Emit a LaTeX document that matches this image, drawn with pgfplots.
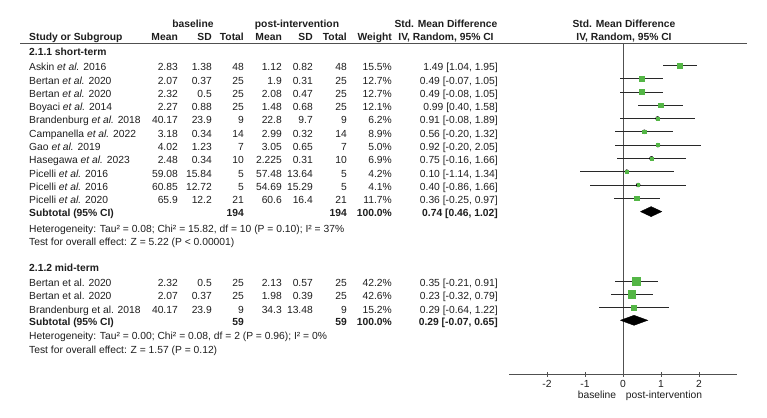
\documentclass[border=0pt]{standalone}
\usepackage{fontspec}
\setmainfont{Liberation Sans}
\usepackage{pgfplots}
\pgfplotsset{compat=1.18}

\definecolor{txt}{RGB}{30,30,30}
\definecolor{fgreen}{RGB}{84,182,70}
\definecolor{ciline}{RGB}{40,40,40}
\definecolor{axgray}{RGB}{80,80,80}

% text helpers, positions in pixels of the 767x417 layout (y downwards)
\newcommand\Lt[3]{\node[anchor=base west] at (#1pt,-#2pt) {#3};}
\newcommand\Rt[3]{\node[anchor=base east] at (#1pt,-#2pt) {#3};}
\newcommand\Ct[3]{\node[anchor=base] at (#1pt,-#2pt) {#3};}
% one study row: y, name, baseline mean/sd/n, post mean/sd/n, weight
\newcommand\Row[9]{%
  \Lt{29}{#1}{#2}\Rt{178}{#1}{#3}\Rt{212}{#1}{#4}\Rt{244}{#1}{#5}%
  \Rt{282}{#1}{#6}\Rt{313}{#1}{#7}\Rt{347}{#1}{#8}\Rt{392}{#1}{#9}}
\newcommand\Ci[2]{\Rt{498}{#1}{#2}}

\begin{document}
\begin{tikzpicture}[font=\fontsize{10.3}{12}\selectfont,
  every node/.style={inner sep=0pt, text=txt}]
\path (0,0) rectangle (767pt,-417pt);

\begin{axis}[
  scale only axis,
  anchor=north west, at={(509pt,-43.5pt)},
  width=228pt, height=330.5pt,
  xmin=-3, xmax=3, ymin=43.5, ymax=374,
  y dir=reverse,
  clip=false,
  axis x line=bottom, axis y line=none,
  axis line style={-, axgray, line width=0.8pt},
  xtick={-2,-1,0,1,2},
  xticklabels={-2,-1,0,1,2},
  tick align=center,
  major tick length=5pt,
  tick style={axgray, line width=0.8pt},
  xticklabel style={yshift=-4pt, font=\fontsize{10.3}{12}\selectfont},
]
% line of no effect
\addplot [axgray, line width=0.9pt] coordinates {(0,43.5) (0,374)};

% confidence intervals: x = SMD, y = row, e+ / e- = distance to CI limits
\addplot [only marks, mark=none,
  error bars/.cd, x dir=both, x explicit, error mark=none,
  error bar style={ciline, line width=0.8pt}]
table [x=x, y=y, x error plus=ep, x error minus=em] {
x     y      ep    em
1.49  65.3   0.46  0.45
0.49  78.6   0.56  0.56
0.49  91.9   0.56  0.57
0.99  105.2  0.59  0.59
0.91  118.5  0.98  0.99
0.56  131.8  0.76  0.76
0.92  145.1  1.13  1.12
0.75  158.4  0.91  0.91
0.10  171.7  1.24  1.24
0.40  185.0  1.26  1.26
0.36  198.3  0.61  0.61
0.35  281.0  0.56  0.56
0.23  294.3  0.56  0.55
0.29  307.6  0.93  0.93
};

% study estimates, square size from weight
\addplot [scatter, only marks, mark=square*, point meta=y,
  scatter/use mapped color={draw=fgreen, fill=fgreen},
  visualization depends on={0.55*sqrt(\thisrow{w})+0.25 \as \ms},
  scatter/@pre marker code/.append style={/tikz/mark size=\ms}]
table [x=x, y=y] {
x     y      w
1.49  65.3   15.5
0.49  78.6   12.7
0.49  91.9   12.7
0.99  105.2  12.1
0.91  118.5  6.2
0.56  131.8  8.9
0.92  145.1  5.0
0.75  158.4  6.9
0.10  171.7  4.2
0.40  185.0  4.1
0.36  198.3  11.7
0.35  281.0  42.2
0.23  294.3  42.6
0.29  307.6  15.2
};

% pooled estimates
\addplot [fill=black, draw=black] coordinates {
  (0.46,211.6) (0.74,206.6) (1.02,211.6) (0.74,216.6) (0.46,211.6)};
\addplot [fill=black, draw=black] coordinates {
  (-0.07,320.3) (0.29,315.3) (0.65,320.3) (0.29,325.3) (-0.07,320.3)};
\end{axis}

\draw [axgray, line width=0.8pt] (20pt,-43.5pt) -- (747pt,-43.5pt);

% headers
\Ct{193}{28}{\bfseries baseline}
\Ct{297}{28}{\bfseries post-intervention}
\Ct{446}{28}{\bfseries Std. Mean Difference}
\Ct{624}{28}{\bfseries Std. Mean Difference}
\Lt{29}{41}{\bfseries Study or Subgroup}
\Rt{178}{41}{\bfseries Mean}\Rt{212}{41}{\bfseries SD}\Rt{244}{41}{\bfseries Total}
\Rt{282}{41}{\bfseries Mean}\Rt{313}{41}{\bfseries SD}\Rt{347}{41}{\bfseries Total}
\Rt{392}{41}{\bfseries Weight}
\Ct{446}{41}{\bfseries IV, Random, 95\% CI}
\Ct{624}{41}{\bfseries IV, Random, 95\% CI}

% 2.1.1 short-term
\Lt{29}{56}{\bfseries 2.1.1 short-term}
\Row{70.8}{Askin \emph{et al.} 2016}{2.83}{1.38}{48}{1.12}{0.82}{48}{15.5\%}
\Ci{70.8}{1.49 [1.04, 1.95]}
\Row{84.1}{Bertan \emph{et al.} 2020}{2.07}{0.37}{25}{1.9}{0.31}{25}{12.7\%}
\Ci{84.1}{0.49 [-0.07, 1.05]}
\Row{97.4}{Bertan \emph{et al.} 2020}{2.32}{0.5}{25}{2.08}{0.47}{25}{12.7\%}
\Ci{97.4}{0.49 [-0.08, 1.05]}
\Row{110.7}{Boyaci \emph{et al.} 2014}{2.27}{0.88}{25}{1.48}{0.68}{25}{12.1\%}
\Ci{110.7}{0.99 [0.40, 1.58]}
\Row{124.0}{Brandenburg \emph{et al.} 2018}{40.17}{23.9}{9}{22.8}{9.7}{9}{6.2\%}
\Ci{124.0}{0.91 [-0.08, 1.89]}
\Row{137.3}{Campanella \emph{et al.} 2022}{3.18}{0.34}{14}{2.99}{0.32}{14}{8.9\%}
\Ci{137.3}{0.56 [-0.20, 1.32]}
\Row{150.6}{Gao \emph{et al.} 2019}{4.02}{1.23}{7}{3.05}{0.65}{7}{5.0\%}
\Ci{150.6}{0.92 [-0.20, 2.05]}
\Row{163.9}{Hasegawa \emph{et al.} 2023}{2.48}{0.34}{10}{2.225}{0.31}{10}{6.9\%}
\Ci{163.9}{0.75 [-0.16, 1.66]}
\Row{177.2}{Picelli \emph{et al.} 2016}{59.08}{15.84}{5}{57.48}{13.64}{5}{4.2\%}
\Ci{177.2}{0.10 [-1.14, 1.34]}
\Row{190.5}{Picelli \emph{et al.} 2016}{60.85}{12.72}{5}{54.69}{15.29}{5}{4.1\%}
\Ci{190.5}{0.40 [-0.86, 1.66]}
\Row{203.8}{Picelli \emph{et al.} 2020}{65.9}{12.2}{21}{60.6}{16.4}{21}{11.7\%}
\Ci{203.8}{0.36 [-0.25, 0.97]}
\Row{216.8}{\bfseries Subtotal (95\% CI)}{}{}{\bfseries 194}{}{}{\bfseries 194}{\bfseries 100.0\%}
\Ci{216.8}{\bfseries 0.74 [0.46, 1.02]}
\Lt{29}{232}{Heterogeneity: Tau² = 0.08; Chi² = 15.82, df = 10 (P = 0.10); I² = 37\%}
\Lt{29}{245.3}{Test for overall effect: Z = 5.22 (P < 0.00001)}

% 2.1.2 mid-term
\Lt{29}{271}{\bfseries 2.1.2 mid-term}
\Row{286.5}{Bertan et al. 2020}{2.32}{0.5}{25}{2.13}{0.57}{25}{42.2\%}
\Ci{286.5}{0.35 [-0.21, 0.91]}
\Row{299.8}{Bertan et al. 2020}{2.07}{0.37}{25}{1.98}{0.39}{25}{42.6\%}
\Ci{299.8}{0.23 [-0.32, 0.79]}
\Row{313.1}{Brandenburg et al. 2018}{40.17}{23.9}{9}{34.3}{13.48}{9}{15.2\%}
\Ci{313.1}{0.29 [-0.64, 1.22]}
\Row{325.8}{\bfseries Subtotal (95\% CI)}{}{}{\bfseries 59}{}{}{\bfseries 59}{\bfseries 100.0\%}
\Ci{325.8}{\bfseries 0.29 [-0.07, 0.65]}
\Lt{29}{339.5}{Heterogeneity: Tau² = 0.00; Chi² = 0.08, df = 2 (P = 0.96); I² = 0\%}
\Lt{29}{353}{Test for overall effect: Z = 1.57 (P = 0.12)}

% axis captions
\Ct{597}{398}{baseline}
\Ct{664}{398}{post-intervention}
\end{tikzpicture}
\end{document}
